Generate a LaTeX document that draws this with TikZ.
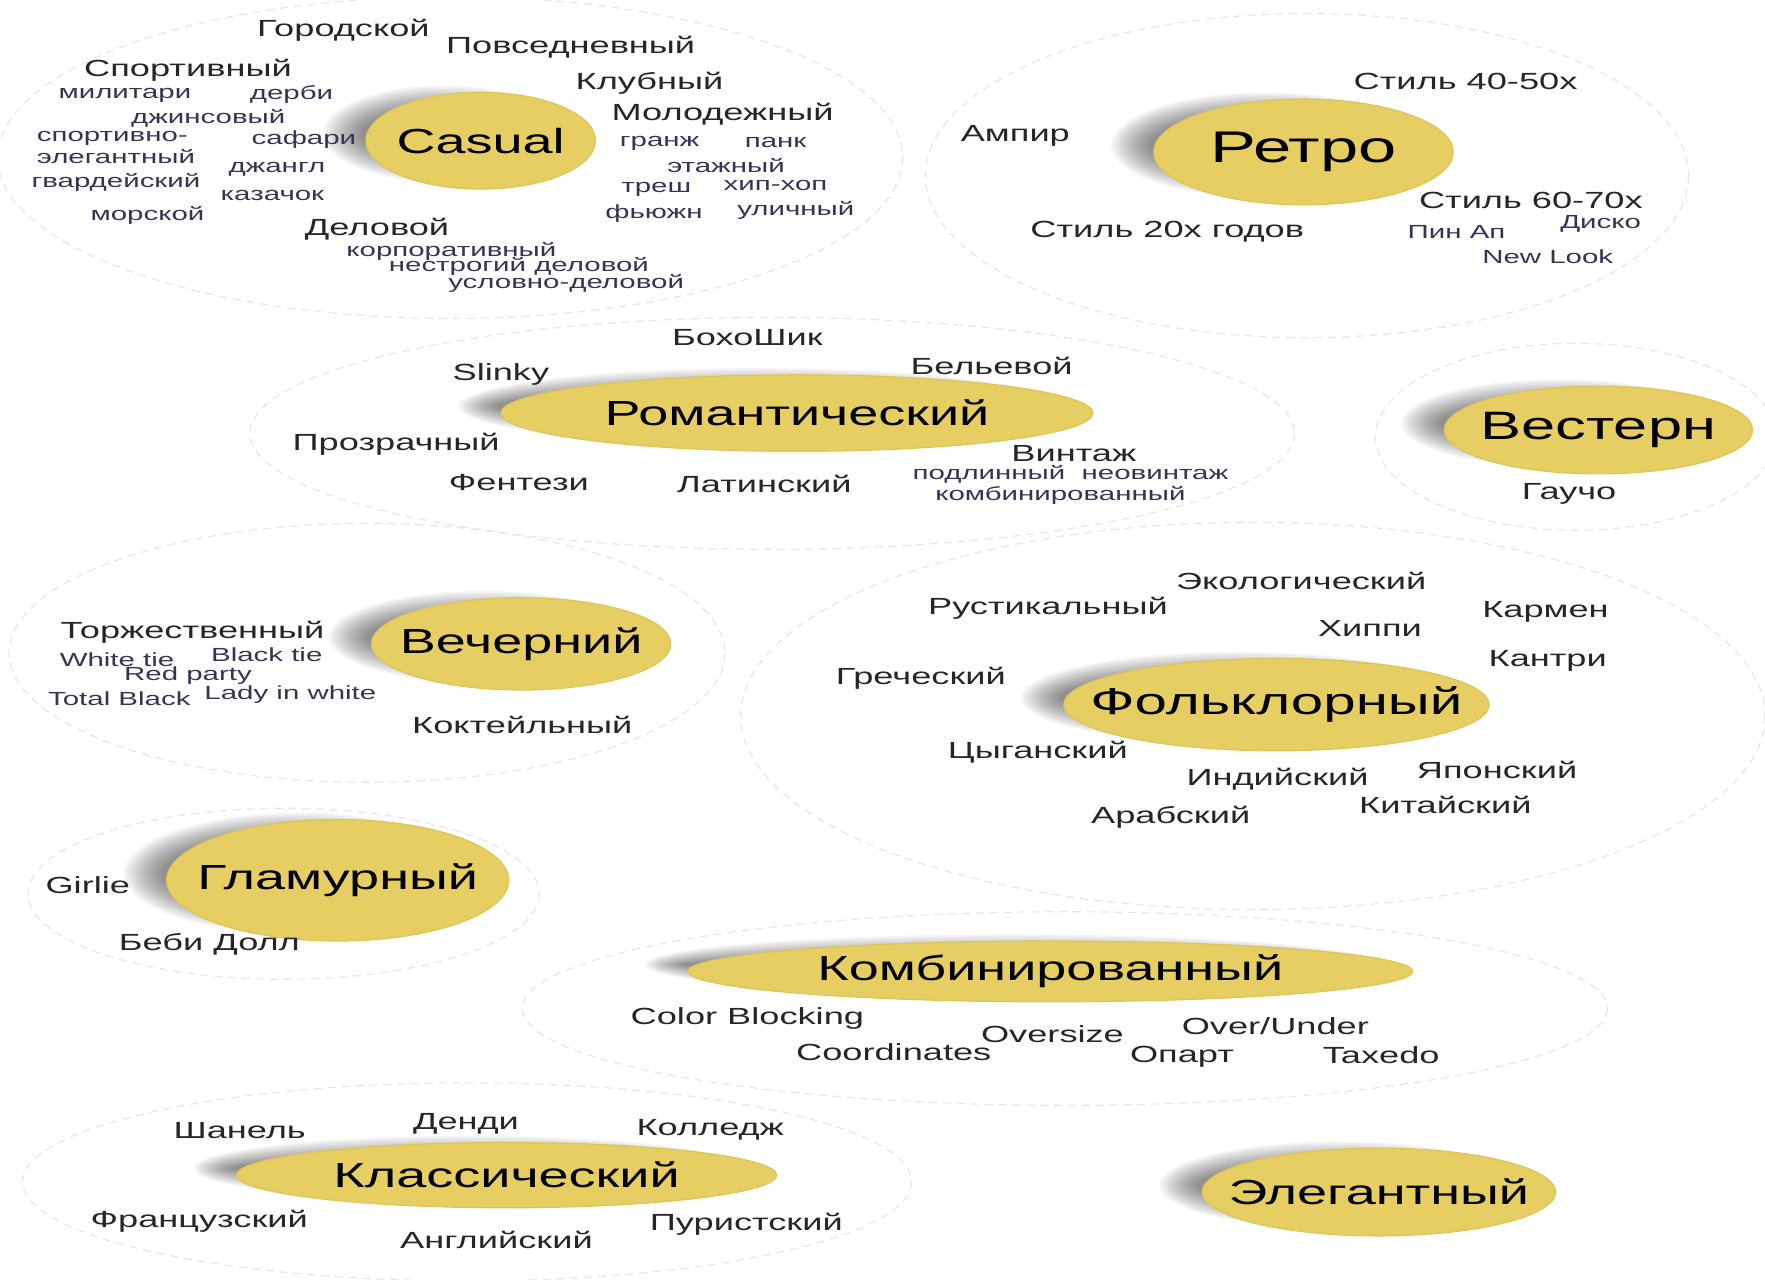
\documentclass[tikz,border=0pt]{standalone}
\usepackage{fontspec}
\setmainfont{Liberation Sans}[FakeStretch=1.55]
\usepackage{tikz}
\usepackage{xcolor}
\definecolor{coreyellow}{RGB}{231,206,98}
\definecolor{coreedge}{RGB}{222,197,88}
\definecolor{smallnavy}{RGB}{52,52,84}
\definecolor{zonegray}{RGB}{230,230,230}

\tikzset{
  zone/.style={draw=zonegray, dash pattern=on 2pt off 1.5pt, line width=0.3pt},
  core/.style={fill=coreyellow, draw=coreedge, line width=0.3pt},
  mid/.style={inner sep=0pt, text=black!85, font=\fontsize{5.9}{6.5}\selectfont},
  small/.style={inner sep=0pt, text=smallnavy, font=\fontsize{4.8}{4.4}\selectfont},
}

\begin{document}
\begin{tikzpicture}[x=0.01cm,y=-0.01cm]
    \useasboundingbox (0,0) rectangle (1568,1137);

    % dashed zones
    \draw[zone] (400,140) ellipse (402 and 143);
    \draw[zone] (1161,156) ellipse (339 and 144);
    \draw[zone] (686,385) ellipse (464 and 103);
    \draw[zone] (1400,388) ellipse (178 and 83);
    \draw[zone] (326,580) ellipse (318 and 115);
    \draw[zone] (1113,636) ellipse (455 and 172);
    \draw[zone] (252,794) ellipse (227 and 76);
    \draw[zone] (946,896) ellipse (482 and 86);
    \draw[zone] (415,1050) ellipse (395 and 88);

    % yellow cores with soft shadow
    \foreach \nm/\cx/\cy/\rx/\ry/\fs/\txt in {
        casual/427/125/102/43/8.8/Casual,
        retro/1158/135/133/47/11.2/Ретро,
        roman/708/367/263/34/8.8/Романтический,
        western/1420/382/137/39/10/Вестерн,
        evening/463/572/133/41/8.8/Вечерний,
        folk/1134/626/189/41/9.5/Фольклорный,
        glam/300/782/152/54/8.8/Гламурный,
        combo/933/863/322/27/8.8/Комбинированный,
        classic/450/1044/240/29/8.8/Классический,
        elegant/1225/1059/157/39/8.8/Элегантный}{
      \foreach \k in {0,...,13}
        \fill[black,opacity=0.04] (\cx-34,\cy-6) ellipse [x radius={\rx+4-2.6*\k}, y radius={\ry-1.6*\k}];
      \fill[core] (\cx,\cy) ellipse [x radius=\rx, y radius=\ry];
      \node[font=\fontsize{\fs}{\fs}\selectfont] (\nm) at (\cx,\cy) {\txt};
    }

    % casual
    \node[mid] (gorod) at (305,27) {Городской};
    \node[mid] (povsed) at (507,42) {Повседневный};
    \node[mid] (sport) at (167,62) {Спортивный};
    \node[mid] (klub) at (577,74) {Клубный};
    \node[mid] (molod) at (642,101) {Молодежный};
    \node[small] (milit) at (111,85) {милитари};
    \node[small] (derbi) at (259,84) {дерби};
    \node[small] (jeans) at (185,105) {джинсовый};
    \node[small,align=left] (sportel) at (103,131) {спортивно-\\элегантный};
    \node[small] (safari) at (270,124) {сафари};
    \node[small] (jungle) at (246,150) {джангл};
    \node[small] (guard) at (103,162) {гвардейский};
    \node[small] (kazak) at (242,174) {казачок};
    \node[small] (marine) at (131,191) {морской};
    \node[small] (grunge) at (586,127) {гранж};
    \node[small] (punk) at (689,127) {панк};
    \node[small] (layer) at (645,147) {этажный};
    \node[small] (trash) at (583,168) {треш};
    \node[small] (hiphop) at (689,165) {хип-хоп};
    \node[small] (fusion) at (581,190) {фьюжн};
    \node[small] (street) at (707,187) {уличный};
    \node[mid] (delo) at (335,204) {Деловой};
    \node[small] (corp) at (401,223) {корпоративный};
    \node[small] (loose) at (461,237) {нестрогий деловой};
    \node[small] (semi) at (503,252) {условно-деловой};

    % retro
    \node[mid] (s4050) at (1302,72) {Стиль 40-50х};
    \node[mid] (ampir) at (902,121) {Ампир};
    \node[mid] (s6070) at (1360,178) {Стиль 60-70х};
    \node[mid] (s20) at (1037,206) {Стиль 20х годов};
    \node[small] (pinup) at (1294,206) {Пин Ап};
    \node[small] (disco) at (1422,199) {Диско};
    \node[small] (newlook) at (1375,228) {New Look};

    % romantic
    \node[mid] (boho) at (664,300) {БохоШик};
    \node[mid] (slinky) at (445,333) {Slinky};
    \node[mid] (lingerie) at (881,325) {Бельевой};
    \node[mid] (sheer) at (352,395) {Прозрачный};
    \node[mid] (vintage) at (954,403) {Винтаж};
    \node[small] (realvint) at (951,421) {подлинный~~неовинтаж};
    \node[small] (mixvint) at (942,440) {комбинированный};
    \node[mid] (fantasy) at (461,429) {Фентези};
    \node[mid] (latin) at (679,430) {Латинский};

    % western
    \node[mid] (gaucho) at (1394,439) {Гаучо};

    % evening
    \node[mid] (formal) at (171,562) {Торжественный};
    \node[small] (whitetie) at (104,586) {White tie};
    \node[small] (blacktie) at (237,582) {Black tie};
    \node[small] (redparty) at (167,600) {Red party};
    \node[small] (totalblack) at (106,621) {Total Black};
    \node[small] (lady) at (258,617) {Lady in white};
    \node[mid] (cocktail) at (464,644) {Коктейльный};

    % folk
    \node[mid] (eco) at (1156,516) {Экологический};
    \node[mid] (rustic) at (931,540) {Рустикальный};
    \node[mid] (hippie) at (1217,558) {Хиппи};
    \node[mid] (carmen) at (1373,544) {Кармен};
    \node[mid] (country) at (1375,587) {Кантри};
    \node[mid] (greek) at (818,603) {Греческий};
    \node[mid] (gypsy) at (922,668) {Цыганский};
    \node[mid] (indian) at (1135,692) {Индийский};
    \node[mid] (japan) at (1330,684) {Японский};
    \node[mid] (china) at (1284,715) {Китайский};
    \node[mid] (arab) at (1040,726) {Арабский};

    % glamour
    \node[mid] (girlie) at (78,786) {Girlie};
    \node[mid] (babydoll) at (186,839) {Беби Долл};

    % combined
    \node[mid] (colblock) at (664,905) {Color Blocking};
    \node[mid] (oversize) at (935,919) {Oversize};
    \node[mid] (overunder) at (1133,912) {Over/Under};
    \node[mid] (coords) at (794,935) {Coordinates};
    \node[mid] (opart) at (1050,939) {Опарт};
    \node[mid] (taxedo) at (1227,937) {Taxedo};

    % classic
    \node[mid] (chanel) at (213,1004) {Шанель};
    \node[mid] (dandy) at (414,998) {Денди};
    \node[mid] (college) at (631,1004) {Колледж};
    \node[mid] (french) at (177,1085) {Французский};
    \node[mid] (english) at (441,1102) {Английский};
    \node[mid] (purist) at (663,1088) {Пуристский};
\end{tikzpicture}
\end{document}
